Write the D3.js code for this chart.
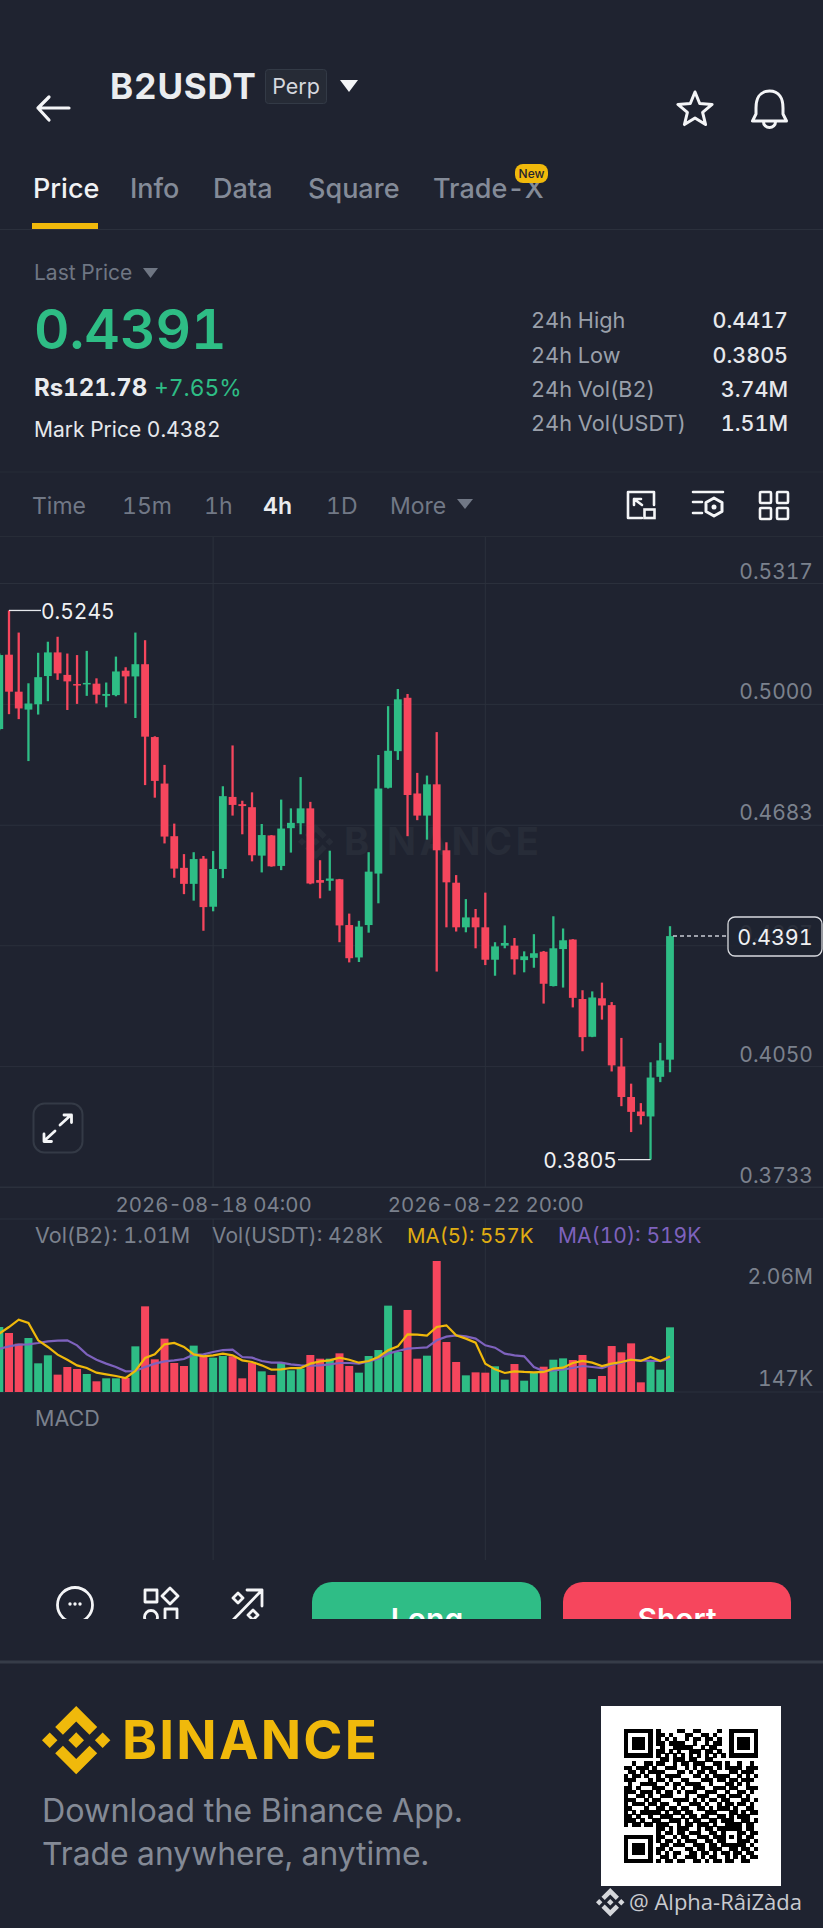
<!DOCTYPE html>
<html>
<head>
<meta charset="utf-8">
<script src="https://cdn.jsdelivr.net/npm/d3@7"></script>
<style>
  html, body { margin: 0; padding: 0; background: #1f2330; }
  svg { display: block; font-family: Inter, "Noto Sans", sans-serif; font-variant-numeric: tabular-nums; }
</style>
</head>
<body>
<div id="chart"></div>
<script>
const opens = [.4934,.5129,.5032,.4985,.4999,.5073,.5135,.5076,.5052,.5051,.5053,.5021,.5023,.5087,.5072,.5104,.4913,.4791,.4653,.4570,.4528,.4594,.4468,.4567,.4756,.4737,.4729,.4602,.4655,.4575,.4674,.4687,.4726,.4538,.4536,.4540,.4420,.4335,.4420,.4555,.4780,.4876,.5016,.4765,.4707,.4789,.4616,.4531,.4414,.4440,.4414,.4329,.4366,.4366,.4328,.4334,.4350,.4260,.4357,.4382,.4226,.4127,.4228,.4210,.4049,.3969,.3931,.3918,.4022,.4067];
const highs = [.5132,.5245,.5187,.5054,.5134,.5163,.5176,.5132,.5128,.5139,.5067,.5056,.5124,.5096,.5187,.5167,.4915,.4840,.4686,.4606,.4611,.4601,.4614,.4784,.4891,.4746,.4768,.4685,.4656,.4749,.4726,.4808,.4743,.4590,.4615,.4541,.4450,.4431,.4611,.4866,.4994,.5039,.5026,.4819,.4812,.4926,.4637,.4551,.4488,.4462,.4505,.4375,.4419,.4386,.4351,.4396,.4352,.4443,.4411,.4383,.4249,.4246,.4269,.4218,.4124,.4004,.3953,.4060,.4111,.4417];
const lows = [.4931,.4973,.4960,.4850,.4972,.5007,.5063,.4984,.5000,.5021,.5001,.4991,.5020,.5001,.4963,.4787,.4754,.4634,.4544,.4501,.4484,.4405,.4456,.4543,.4707,.4658,.4587,.4558,.4573,.4564,.4610,.4658,.4527,.4490,.4510,.4375,.4322,.4323,.4400,.4477,.4778,.4853,.4653,.4695,.4644,.4298,.4414,.4403,.4401,.4359,.4315,.4287,.4359,.4290,.4296,.4308,.4214,.4259,.4256,.4204,.4089,.4126,.4172,.4036,.3945,.3877,.3897,.3805,.4008,.4034];
const closes = [.5128,.5032,.4988,.5001,.5070,.5135,.5080,.5059,.5049,.5055,.5024,.5026,.5085,.5072,.5104,.4914,.4798,.4652,.4568,.4528,.4593,.4467,.4567,.4758,.4735,.4732,.4603,.4656,.4574,.4673,.4688,.4726,.4529,.4531,.4542,.4419,.4333,.4416,.4560,.4778,.4877,.5012,.4761,.4707,.4789,.4616,.4532,.4414,.4440,.4414,.4329,.4364,.4373,.4330,.4338,.4346,.4266,.4359,.4380,.4229,.4126,.4230,.4209,.4052,.3969,.3930,.3919,.4020,.4065,.4391];
// volumes and moving averages, in thousands
const volumes = [1022,928,760,849,451,577,273,393,362,283,168,215,215,220,718,1347,514,839,456,409,729,577,540,566,561,215,461,325,267,456,341,367,582,524,524,608,409,304,566,660,1358,629,1290,524,571,2060,786,472,262,309,304,404,194,440,178,315,398,508,529,503,582,204,252,723,624,765,152,482,351,1017];
const ma5 = [917,1022,1138,1085,813,708,587,508,419,377,304,278,252,220,330,535,592,750,771,708,592,561,577,603,577,498,472,419,351,356,377,377,446,482,498,540,508,461,488,550,655,718,907,902,886,1022,1048,891,839,776,446,356,299,325,315,309,315,367,383,456,488,461,409,446,472,508,488,550,488,557];
const ma10 = [681,718,744,750,771,797,807,813,734,592,508,446,393,325,330,393,446,482,498,519,587,592,629,660,666,550,540,488,461,461,435,419,414,419,435,456,456,446,482,524,603,645,681,692,702,813,870,891,875,839,734,697,603,577,561,393,330,341,356,377,409,393,377,430,461,508,498,488,488,519];

const priceTicks = [0.5317, 0.5000, 0.4683, 0.4367, 0.4050, 0.3733];
const volTickLabels = ["2.06M", "147K"];
const timeIndex = [22, 50];
const timeLabels = ["2026-08-18 04:00", "2026-08-22 20:00"];
const tabs = ["Price", "Info", "Data", "Square", "Trade-X"];
const tabX = [33, 130, 213, 308, 433];
const frames = ["Time", "15m", "1h", "4h", "1D", "More"];
const frameX = [32, 122, 204, 263, 326, 390];
const statNames = ["24h High", "24h Low", "24h Vol(B2)", "24h Vol(USDT)"];
const statValues = ["0.4417", "0.3805", "3.74M", "1.51M"];

const qrRows = [
"111111101000011001100001001111111","100000101101000110011010001000001","101110101010100101101101001011101","101110101101111001001011001011101",
"101110100100111110010110001011101","100000101101010011101101001000001","111111101010101010101010101111111","000000000110111011001100000000000",
"001001101100101101110011010010010","110111010011100101011101011110111","011010111100011010110110001101110","101101001011110001101011110010101",
"111000101101001100011101101101110","010011110010110111100100011010100","110100011100101001110011101100111","111011101011010111001110010011010",
"100110100111000100111001101110100","111001011000111101010110110001101","101110110110010011101001011011010","110001001101101100110101110100110",
"101011111010110110001110001101011","110100100111001011011001101011100","111010011001110101100110111001101","101101101110010110111010011110110",
"000000001101011100101101111110110","000000001011011011100110100011011","111111101100101100111011101010110","100000101011010111001101100011101",
"101110100110111001110110111111010","101110101101000110110111001101101","101110101010110011011010110110110","100000100110100111010110010101011","111111101011011001101011011001100"];

const green = "#2ebd85", red = "#f6465d", yellow = "#f0b90b", purple = "#7e62bd";
const gridColor = "#2b303c", axisText = "#7b818d", bg = "#1f2330";
const logoPath = "M38.73 53.2l24.59-24.58 24.6 24.6 14.3-14.31L63.32 0 24.42 38.9zM0 63.31l14.3-14.31 14.31 14.31-14.31 14.3zM38.73 73.41l24.59 24.59 24.6-24.6 14.31 14.29-38.9 38.91-38.91-38.88zM98 63.31l14.3-14.31 14.31 14.3-14.31 14.32zM77.83 63.3L63.32 48.78 52.59 59.51l-1.24 1.23-2.54 2.54 14.51 14.5 14.51-14.47z";

const width = 823, height = 1928;
const svg = d3.select("#chart").append("svg")
  .attr("width", width)
  .attr("height", height)
  .attr("viewBox", [0, 0, width, height]);

svg.append("rect").attr("width", width).attr("height", height).attr("fill", bg);

function label(g, x, y, str, size, fill, weight, anchor) {
  return g.append("text")
    .attr("x", x).attr("y", y)
    .attr("font-size", size)
    .attr("fill", fill)
    .attr("font-weight", weight || 400)
    .attr("text-anchor", anchor || "start")
    .text(str);
}
function hline(g, y, color, w) {
  g.append("line").attr("x1", 0).attr("x2", width).attr("y1", y).attr("y2", y)
    .attr("stroke", color).attr("stroke-width", w || 1);
}
function tri(g, x0, x1, y0, y1, fill) {
  g.append("path").attr("d", `M${x0} ${y0}H${x1}L${(x0 + x1) / 2} ${y1}Z`).attr("fill", fill);
}
function icon(g, d, w, color) {
  return g.append("path").attr("d", d).attr("fill", "none")
    .attr("stroke", color || "#f4f5f7").attr("stroke-width", w || 3)
    .attr("stroke-linejoin", "round").attr("stroke-linecap", "round");
}

// ---- header
const head = svg.append("g");
icon(head, "M69 108H38M49 97L38 108L49 120", 3.2);
label(head, 110, 99, "B2USDT", 35, "#eaecef", 700).attr("letter-spacing", "0.8");
head.append("rect").attr("x", 265.5).attr("y", 69.5).attr("width", 61).attr("height", 34).attr("rx", 3)
  .attr("fill", "#262b36").attr("stroke", "#333a46");
label(head, 296, 94, "Perp", 21.5, "#d5d8de", 400, "middle");
tri(head, 340, 358, 80, 92, "#f4f5f7");

const starPts = d3.range(10).map(i => [i * Math.PI / 5, i % 2 ? 8 : 18]);
head.append("path")
  .attr("transform", "translate(695,110)")
  .attr("d", d3.lineRadial().curve(d3.curveLinearClosed)(starPts))
  .attr("fill", "none").attr("stroke", "#f4f5f7").attr("stroke-width", 3).attr("stroke-linejoin", "round");
icon(head, "M769.5 91c-10 0-13.500 8-13.500 17v6l-3.500 7h34l-3.500-7v-6c0-9-3.500-17-13.500-17zM763.500 122a6 5.500 0 0 0 12 0", 3);

// ---- tabs
tabs.forEach((t, i) => label(head, tabX[i], 198, t, 27, i ? "#848b98" : "#f1f2f4", 500));
head.append("rect").attr("x", 32).attr("y", 223).attr("width", 66).attr("height", 6).attr("fill", yellow);
hline(head, 229.500, "#2b303c");
head.append("rect").attr("x", 515).attr("y", 164).attr("width", 33).attr("height", 19).attr("rx", 8).attr("fill", yellow);
label(head, 531.500, 178, "New", 12, "#1f2330", 500, "middle");

// ---- price block
label(head, 34, 280, "Last Price", 21, "#6f7683");
tri(head, 143, 158, 268, 278, "#6f7683");
label(head, 34, 349, "0.4391", 55, green, 600);
label(head, 34, 396, "Rs121.78", 24, "#eaecef", 700);
label(head, 154, 396, "+7.65%", 22.800, green, 400);
label(head, 34, 437, "Mark Price 0.4382", 21, "#e6e8ec", 400);
const statY = [328, 363, 397, 431];
statNames.forEach((t, i) => {
  label(head, 531, statY[i], t, 21.700, "#9aa0ab");
  label(head, 788, statY[i], statValues[i], 21.500, "#e6e8ec", 500, "end");
});
hline(head, 472, "#272c37");

// ---- time frames
frames.forEach((t, i) => label(head, frameX[i], 514, t, 23, t === "4h" ? "#eaecef" : "#717886", t === "4h" ? 600 : 400));
tri(head, 457, 473, 499, 509, "#717886");
icon(head, "M654 505V492H628V518H642", 2.600);
head.append("rect").attr("x", 644.500).attr("y", 509.500).attr("width", 10).attr("height", 8.500)
  .attr("fill", "none").attr("stroke", "#f4f5f7").attr("stroke-width", 2.600);
icon(head, "M642 505L634 499M634 505V499H641", 2.600);
icon(head, "M693 492H723M693 502H702M693 513H702", 2.600);
icon(head, "M714 498L722 502.500V511.500L714 516L706 511.500V502.500Z", 3);
head.append("circle").attr("cx", 714).attr("cy", 507).attr("r", 2.500).attr("fill", "#f4f5f7");
[[760, 492], [777, 492], [760, 508], [777, 508]].forEach(p => {
  head.append("rect").attr("x", p[0]).attr("y", p[1]).attr("width", 11).attr("height", 11).attr("rx", 1)
    .attr("fill", "none").attr("stroke", "#f4f5f7").attr("stroke-width", 2.600);
});
hline(head, 536.500, "#272c37");

// ---- scales
const x = d3.scaleLinear().domain([0, 69]).range([-0.72, 670]);
const y = d3.scaleLinear().domain([0.3733, 0.5317]).range([1187, 583]);
const yVol = d3.scaleLinear().domain([0, 2060]).range([1392, 1261]);
const candles = d3.range(opens.length);
const colorOf = i => closes[i] >= opens[i] ? green : red;

// ---- grid and axes
const grid = svg.append("g");
timeIndex.forEach(i => {
  grid.append("line").attr("x1", x(i)).attr("x2", x(i)).attr("y1", 537).attr("y2", 1187).attr("stroke", gridColor);
  grid.append("line").attr("x1", x(i)).attr("x2", x(i)).attr("y1", 1219).attr("y2", 1560).attr("stroke", gridColor);
});
hline(grid, 1187, gridColor);
hline(grid, 1219, gridColor);
hline(grid, 1392, "#2b303c");

// watermark
const wm = svg.append("g");
wm.append("path").attr("d", logoPath).attr("transform", "translate(298,824) scale(0.28)").attr("fill", "#272c38");
label(wm, 344, 855, "BINANCE", 38, "#272c38", 700).attr("letter-spacing", "3.600");

const yAxis = svg.append("g")
  .attr("transform", `translate(${width},0)`)
  .call(d3.axisLeft(y).tickValues(priceTicks).tickSize(width).tickFormat(d3.format(".4f")));
yAxis.select(".domain").remove();
yAxis.selectAll("line").attr("stroke", gridColor);
yAxis.selectAll("text")
  .attr("x", -10).attr("dy", -5)
  .attr("font-size", 21).attr("font-family", "Inter").attr("fill", axisText);

const xAxis = svg.append("g")
  .attr("transform", "translate(0,1212)")
  .call(d3.axisBottom(x).tickValues(timeIndex).tickSize(0).tickFormat((d, i) => timeLabels[i]));
xAxis.select(".domain").remove();
xAxis.selectAll("text")
  .attr("y", 0).attr("dy", 0)
  .attr("font-size", 20.400).attr("font-family", "Inter").attr("fill", axisText);

// ---- candles
const candleG = svg.append("g");
candleG.selectAll("line").data(candles).join("line")
  .attr("x1", i => x(i)).attr("x2", i => x(i))
  .attr("y1", i => y(highs[i])).attr("y2", i => y(lows[i]))
  .attr("stroke", colorOf).attr("stroke-width", 2.300);
candleG.selectAll("rect").data(candles).join("rect")
  .attr("x", i => x(i) - 3.900)
  .attr("width", 7.800)
  .attr("y", i => y(Math.max(opens[i], closes[i])))
  .attr("height", i => Math.max(1.500, Math.abs(y(opens[i]) - y(closes[i]))))
  .attr("fill", colorOf);

// high / low markers
const hiIdx = d3.maxIndex(highs), loIdx = d3.minIndex(lows);
const marks = svg.append("g");
marks.append("path").attr("d", `M${x(hiIdx)} ${y(highs[hiIdx])}H41`).attr("stroke", "#e6e8ec").attr("stroke-width", 1.300);
label(marks, 41, y(highs[hiIdx]) + 9, d3.format(".4f")(highs[hiIdx]), 21, "#f0f1f3");
marks.append("path").attr("d", `M${x(loIdx)} ${y(lows[loIdx])}H618`).attr("stroke", "#e6e8ec").attr("stroke-width", 1.300);
label(marks, 617, y(lows[loIdx]) + 8, d3.format(".4f")(lows[loIdx]), 21, "#f0f1f3", 400, "end");

// last price tag
const last = closes[closes.length - 1];
marks.append("line").attr("x1", x(69) + 3).attr("x2", 728).attr("y1", y(last)).attr("y2", y(last))
  .attr("stroke", "#c9ccd3").attr("stroke-width", 1.500).attr("stroke-dasharray", "4 3");
marks.append("rect").attr("x", 728).attr("y", 917).attr("width", 94).attr("height", 39).attr("rx", 7)
  .attr("fill", bg).attr("fill-opacity", 0.88).attr("stroke", "#d7d9de").attr("stroke-width", 1.300);
label(marks, 775, 945, d3.format(".4f")(last), 21.500, "#f0f1f3", 400, "middle");

// expand button
const ex = svg.append("g");
ex.append("rect").attr("x", 33.500).attr("y", 1103.500).attr("width", 49).attr("height", 49).attr("rx", 11)
  .attr("fill", "none").attr("stroke", "#343a46").attr("stroke-width", 2);
icon(ex, "M60 1125L71 1115M64 1115H71.500V1122.500M55 1131L44 1141M44 1134V1141.500H51.500", 2.800);

// ---- volume
label(svg, 35, 1243, "Vol(B2): 1.01M", 21.500, axisText);
label(svg, 212, 1243, "Vol(USDT): 428K", 21, axisText);
label(svg, 407, 1243, "MA(5): 557K", 20.500, "#e0ad12");
label(svg, 558, 1243, "MA(10): 519K", 21, purple);
label(svg, 813, 1284, volTickLabels[0], 21, axisText, 400, "end");
label(svg, 813, 1386, volTickLabels[1], 21, axisText, 400, "end");
label(svg, 35, 1426, "MACD", 21.500, axisText);

svg.append("g").selectAll("rect").data(candles).join("rect")
  .attr("x", i => x(i) - 4)
  .attr("width", 8)
  .attr("y", i => yVol(volumes[i]))
  .attr("height", i => yVol(0) - yVol(volumes[i]))
  .attr("fill", colorOf);

const volLine = d3.line().x(i => x(i));
svg.append("path")
  .attr("d", volLine.y(i => yVol(ma10[i]))(candles))
  .attr("fill", "none").attr("stroke", purple).attr("stroke-width", 2.200);
svg.append("path")
  .attr("d", volLine.y(i => yVol(ma5[i]))(candles))
  .attr("fill", "none").attr("stroke", yellow).attr("stroke-width", 2.200);

// ---- bottom bar, cut off at y=1619
svg.append("clipPath").attr("id", "barClip").append("rect")
  .attr("x", 0).attr("y", 1560).attr("width", width).attr("height", 59);
const bar = svg.append("g").attr("clip-path", "url(#barClip)");
bar.append("circle").attr("cx", 75).attr("cy", 1605).attr("r", 17.500)
  .attr("fill", "none").attr("stroke", "#f4f5f7").attr("stroke-width", 2.800);
[70, 75, 80].forEach(cx => bar.append("circle").attr("cx", cx).attr("cy", 1604).attr("r", 1.700).attr("fill", "#f4f5f7"));
icon(bar, "M145 1590H157V1602H145ZM170 1588L178 1596L170 1604L162 1596ZM165 1609H177V1625H165Z", 2.800);
bar.append("circle").attr("cx", 151).attr("cy", 1617).attr("r", 6.500).attr("fill", "none").attr("stroke", "#f4f5f7").attr("stroke-width", 2.800);
icon(bar, "M233 1620L262 1590M247 1590H262V1606M238 1593L243 1598L238 1603L233 1598ZM253 1610L258 1615L253 1620L248 1615Z", 2.800);
bar.append("rect").attr("x", 312).attr("y", 1582).attr("width", 229).attr("height", 60).attr("rx", 20).attr("fill", "#2fbd86");
bar.append("rect").attr("x", 563).attr("y", 1582).attr("width", 228).attr("height", 60).attr("rx", 20).attr("fill", "#f6465d");
label(bar, 427, 1630, "Long", 30, "#ffffff", 600, "middle");
label(bar, 677, 1630, "Short", 30, "#ffffff", 600, "middle");

// ---- footer
hline(svg, 1662, "#363c48", 3);
const foot = svg.append("g");
foot.append("path").attr("d", logoPath).attr("transform", "translate(42,1706) scale(0.54)").attr("fill", yellow);
label(foot, 122, 1759, "BINANCE", 53, yellow, 700).attr("letter-spacing", "2.200");
label(foot, 42, 1822, "Download the Binance App.", 32.300, "#848a96");
label(foot, 42, 1865, "Trade anywhere, anytime.", 31.800, "#848a96");

foot.append("rect").attr("x", 601).attr("y", 1706).attr("width", 180).attr("height", 180).attr("fill", "#fff");
const qrScale = d3.scaleBand().domain(d3.range(33)).range([624, 757.700]);
const qrScaleY = d3.scaleBand().domain(d3.range(33)).range([1729, 1863]);
const qrCells = qrRows.flatMap((r, j) => Array.from(r).map((c, k) => ({ j, k, c }))).filter(d => d.c === "1");
foot.append("g").attr("shape-rendering", "crispEdges").selectAll("rect").data(qrCells).join("rect")
  .attr("x", d => qrScale(d.k)).attr("y", d => qrScaleY(d.j))
  .attr("width", qrScale.bandwidth() + 0.3).attr("height", qrScaleY.bandwidth() + 0.3)
  .attr("fill", "#000");

foot.append("path").attr("d", logoPath).attr("transform", "translate(596,1888) scale(0.225)").attr("fill", "#d5d7db");
label(foot, 629, 1910, "@ Alpha-RâiZàda", 22, "#c9cbd0").attr("font-family", "'Open Sans'");
</script>
</body>
</html>
